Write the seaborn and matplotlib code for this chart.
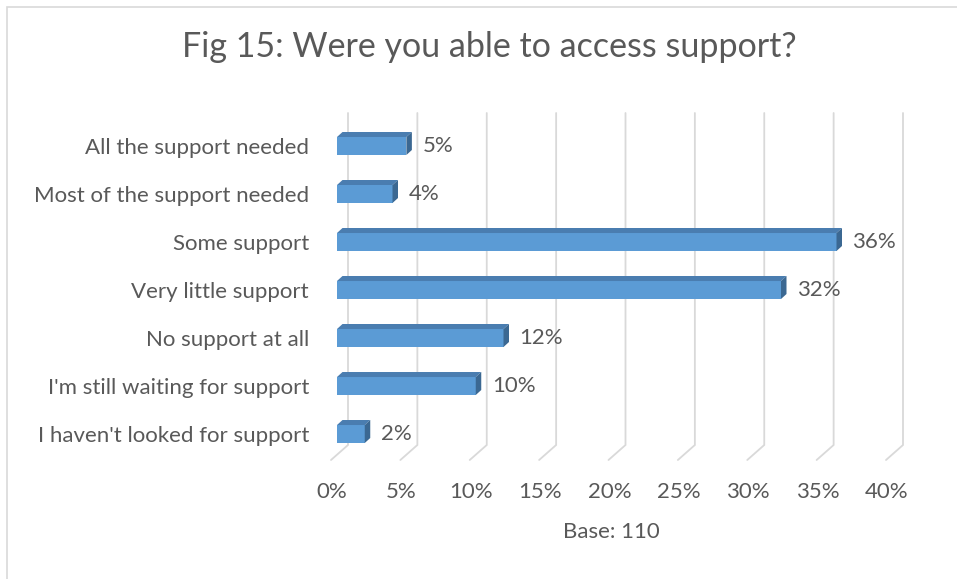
import matplotlib
matplotlib.use("Agg")
import matplotlib.pyplot as plt
import matplotlib.transforms as mtransforms
from matplotlib.patches import Polygon, Rectangle
from matplotlib.lines import Line2D
import pandas as pd
import seaborn as sns

# ---- data -------------------------------------------------------------
categories = [
    "All the support needed",
    "Most of the support needed",
    "Some support",
    "Very little support",
    "No support at all",
    "I'm still waiting for support",
    "I haven't looked for support",
]
percent = [5, 4, 36, 32, 12, 10, 2]
x_ticks = [0, 5, 10, 15, 20, 25, 30, 35, 40]
x_tick_labels = [f"{t}%" for t in x_ticks]
title_text = "Fig 15: Were you able to access support?"
x_title = "Base: 110"

# ---- styling ------------------------------------------------------------
W, H, DPI = 957, 579, 100
TEXT = "#595959"
GRID = "#D9D9D9"
FRONT = "#5B9BD5"
TOP = "#4A7DB0"
SIDE = "#3B6892"
LABEL_SIZE = 16

sns.set_theme(style="white")
plt.rcParams["font.family"] = ["Lato", "DejaVu Sans"]

fig = plt.figure(figsize=(W / DPI, H / DPI), dpi=DPI)
fig.patch.set_facecolor("white")


def px_rect(left, top, right, bottom):
    return [left / W, 1 - bottom / H, (right - left) / W, (bottom - top) / H]


# front plane of the 3-D plot area
AX_L, AX_T, AX_R, AX_B = 337, 113, 892, 445
ax = fig.add_axes(px_rect(AX_L, AX_T, AX_R, AX_B))
ax.set_facecolor("none")

df = pd.DataFrame({"category": categories, "percent": percent})
sns.barplot(data=df, x="percent", y="category", orient="h", color=FRONT,
            saturation=1, width=0.375, edgecolor="none", linewidth=0,
            ax=ax, zorder=3)

ax.set_xlim(0, 40)
ax.set_ylim(6.229, -0.6875)
for s in ax.spines.values():
    s.set_visible(False)
ax.set_ylabel("")

to_disp = ax.transData.transform
to_data = ax.transData.inverted().transform

# depth of the bars, back wall and floor, in pixels
BAR_DX, BAR_DY = 5.5, 5.0
WALL_DX = 11.0
FLOOR_DX, FLOOR_DY = 17.0, 15.0

# back-wall gridlines with their slanted floor segments
y_top_d = to_disp((0, ax.get_ylim()[1]))[1]
y_bot_d = to_disp((0, ax.get_ylim()[0]))[1]
for t in x_ticks:
    xb = to_disp((t, 0))[0] + WALL_DX
    pts = to_data([(xb, y_top_d), (xb, y_bot_d),
                   (xb - FLOOR_DX, y_bot_d - FLOOR_DY)])
    ax.add_line(Line2D(pts[:, 0], pts[:, 1], color=GRID, lw=1.3,
                       zorder=1, clip_on=False, solid_joinstyle="miter"))

# 3-D top and side faces built from each bar's own geometry
bars = ax.containers[0]
for p in bars:
    x0, y0, w, h = p.get_x(), p.get_y(), p.get_width(), p.get_height()
    d = to_disp([(x0, y0), (x0 + w, y0 + h)])
    left, right = d[:, 0].min(), d[:, 0].max()
    bottom, top = d[:, 1].min(), d[:, 1].max()
    top_face = to_data([(left, top), (right, top),
                        (right + BAR_DX, top + BAR_DY), (left + BAR_DX, top + BAR_DY)])
    side_face = to_data([(right, bottom), (right, top),
                         (right + BAR_DX, top + BAR_DY), (right + BAR_DX, bottom + BAR_DY)])
    ax.add_patch(Polygon(top_face, closed=True, fc=TOP, ec="none", zorder=3, clip_on=False))
    ax.add_patch(Polygon(side_face, closed=True, fc=SIDE, ec="none", zorder=3, clip_on=False))
    p.set_clip_on(False)

# value labels
ax.bar_label(bars, fmt="{:g}%", padding=16 * 72 / DPI, fontsize=LABEL_SIZE, color=TEXT)

# axis text
ax.set_xticks(x_ticks, x_tick_labels)
ax.tick_params(axis="x", length=0, pad=27, labelsize=LABEL_SIZE, labelcolor=TEXT)
ax.tick_params(axis="y", length=0, pad=28 * 72 / DPI, labelsize=LABEL_SIZE, labelcolor=TEXT)
shift = mtransforms.ScaledTranslation(-5 / DPI, 0, fig.dpi_scale_trans)
for lab in ax.get_xticklabels():
    lab.set_transform(lab.get_transform() + shift)

ax.set_xlabel(x_title, fontsize=LABEL_SIZE, color=TEXT)
ax.xaxis.set_label_coords((611 - AX_L) / (AX_R - AX_L), -(532 - AX_B) / (AX_B - AX_T))
ax.xaxis.label.set_va("center")

fig.text(489 / W, 1 - 47 / H, title_text, ha="center", va="center",
         fontsize=24.5, color=TEXT)

# chart-area border
fig.patches.append(Rectangle((7 / W, -0.5), 1.5, 1 - 7 / H + 0.5,
                             transform=fig.transFigure, fill=False,
                             ec=GRID, lw=1.2, zorder=0))

fig.savefig("out.png", dpi=DPI, facecolor="white")
